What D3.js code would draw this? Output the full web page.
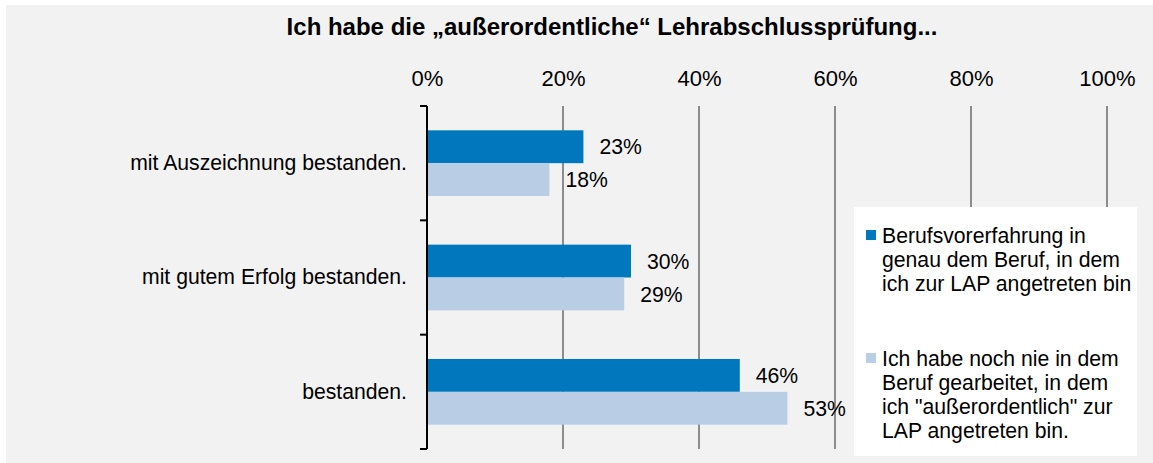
<!DOCTYPE html>
<html>
<head>
<meta charset="utf-8">
<script src="https://cdn.jsdelivr.net/npm/d3@7"></script>
<style>
  html, body { margin: 0; padding: 0; background: #ffffff; }
  svg { display: block; font-family: "Liberation Sans", Arial, sans-serif; }
</style>
</head>
<body>
<svg id="chart" width="1153" height="463"></svg>
<script>
// Answer categories (top to bottom)
const categories = [
  "mit Auszeichnung bestanden.",
  "mit gutem Erfolg bestanden.",
  "bestanden."
];

// Series names as shown in the legend (lines pre-broken)
const seriesNames = ["erfahren", "nieGearbeitet"];
const legendLines = [
  ["Berufsvorerfahrung in", "genau dem Beruf, in dem", "ich zur LAP angetreten bin"],
  ["Ich habe noch nie in dem", "Beruf gearbeitet, in dem", "ich \"außerordentlich\" zur", "LAP angetreten bin."]
];

// Shares per category, in percent
const erfahrenValues = [23, 30, 46];
const nieGearbeitetValues = [18, 29, 53];

// Axis ticks
const tickValues = [0, 20, 40, 60, 80, 100];
const tickLabels = ["0%", "20%", "40%", "60%", "80%", "100%"];

const colors = { erfahren: "#0177bd", nieGearbeitet: "#b9cde5" };
const textSize = 21.2;

const rows = categories.map((c, i) => ({
  category: c,
  values: [
    { key: "erfahren", value: erfahrenValues[i] },
    { key: "nieGearbeitet", value: nieGearbeitetValues[i] }
  ]
}));

const svg = d3.select("#chart");

// Chart area background
svg.append("rect")
  .attr("x", 6).attr("y", 5)
  .attr("width", 1153 - 6).attr("height", 463 - 5)
  .attr("fill", "#f2f2f2");

// Title
svg.append("text")
  .attr("x", 612).attr("y", 35)
  .attr("text-anchor", "middle")
  .attr("font-weight", "bold")
  .attr("font-size", 24)
  .attr("fill", "#000")
  .text("Ich habe die „außerordentliche“ Lehrabschlussprüfung...");

const x = d3.scaleLinear().domain([0, 100]).range([427, 1107]);
const y = d3.scaleBand().domain(categories).range([106, 449]).padding(0);
const ySub = d3.scaleBand().domain(seriesNames).range([0, y.bandwidth()])
  .paddingInner(0).paddingOuter(0.74);

// Vertical gridlines
svg.append("g")
  .selectAll("line")
  .data(tickValues.filter(d => d > 0))
  .join("line")
  .attr("x1", d => x(d)).attr("x2", d => x(d))
  .attr("y1", 106).attr("y2", 449)
  .attr("stroke", "#8c8c8c")
  .attr("stroke-width", 2);

// Top value axis (labels only)
const xAxis = d3.axisTop(x)
  .tickValues(tickValues)
  .tickFormat((d, i) => tickLabels[i])
  .tickSize(0)
  .tickPadding(0);
const gx = svg.append("g").attr("transform", "translate(0,86)").call(xAxis);
gx.select(".domain").remove();
gx.selectAll("text")
  .attr("font-size", 22)
  .attr("font-family", "Liberation Sans, Arial, sans-serif")
  .attr("fill", "#000")
  .attr("dy", 0);

// Bars
const groups = svg.append("g")
  .selectAll("g")
  .data(rows)
  .join("g")
  .attr("transform", d => `translate(0,${y(d.category)})`);

groups.selectAll("rect")
  .data(d => d.values)
  .join("rect")
  .attr("x", x(0))
  .attr("y", d => ySub(d.key))
  .attr("width", d => x(d.value) - x(0))
  .attr("height", ySub.bandwidth())
  .attr("fill", d => colors[d.key]);

// Value labels
groups.selectAll("text.value")
  .data(d => d.values)
  .join("text")
  .attr("class", "value")
  .attr("x", d => x(d.value) + 16)
  .attr("y", d => ySub(d.key) + ySub.bandwidth() / 2)
  .attr("dy", "0.36em")
  .attr("font-size", textSize)
  .attr("fill", "#000")
  .text(d => d.value + "%");

// Category axis on the left
const yAxis = d3.axisLeft(y).tickSize(0).tickPadding(20);
const gy = svg.append("g").attr("transform", `translate(${x(0)},0)`).call(yAxis);
gy.select(".domain").remove();
gy.selectAll("text")
  .attr("font-size", textSize)
  .attr("font-family", "Liberation Sans, Arial, sans-serif")
  .attr("fill", "#000");

const boundaries = categories.map(c => y(c)).concat([y.range()[1]]);
svg.append("line")
  .attr("x1", x(0)).attr("x2", x(0))
  .attr("y1", y.range()[0]).attr("y2", y.range()[1])
  .attr("stroke", "#000").attr("stroke-width", 2);
svg.append("g")
  .selectAll("line")
  .data(boundaries)
  .join("line")
  .attr("x1", x(0) - 7).attr("x2", x(0))
  .attr("y1", d => d).attr("y2", d => d)
  .attr("stroke", "#000").attr("stroke-width", 2);

// Legend
const legend = svg.append("g");
legend.append("rect")
  .attr("x", 854).attr("y", 207)
  .attr("width", 283).attr("height", 249)
  .attr("fill", "#ffffff");

const legendTop = [235, 358];
seriesNames.forEach((key, i) => {
  legend.append("rect")
    .attr("x", 866).attr("y", legendTop[i] - 5)
    .attr("width", 10).attr("height", 10)
    .attr("fill", colors[key]);
  legend.append("g").selectAll("text")
    .data(legendLines[i])
    .join("text")
    .attr("x", 882)
    .attr("y", (d, j) => legendTop[i] + j * 24)
    .attr("dy", "0.36em")
    .attr("font-size", textSize)
    .attr("fill", "#000")
    .text(d => d);
});
</script>
</body>
</html>
